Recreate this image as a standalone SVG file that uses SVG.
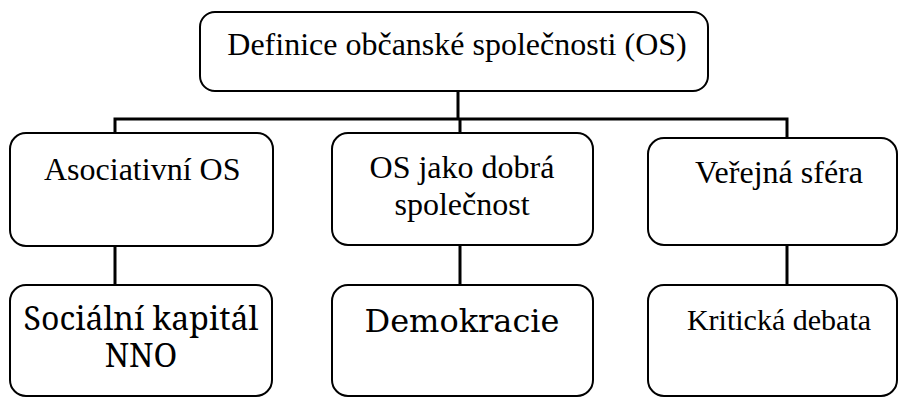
<svg xmlns="http://www.w3.org/2000/svg" width="899" height="398" viewBox="0 0 899 398">
<style>
.box{fill:#fff;stroke:#000;stroke-width:2}
.c{fill:none;stroke:#000;stroke-width:3}
</style>
<rect width="899" height="398" fill="#fff"/>
<g id="connectors">
<path class="c" d="M458 91V119M115 133V119H787V138M460 119V133M115 246V285M460 245V285M787 245V285"/>
</g>
<g id="root"><rect class="box" x="200" y="12" width="508" height="79" rx="15"/><text font-family="Times New Roman" font-size="32" text-anchor="middle" x="457" y="55">Definice občanské společnosti (OS)</text></g>
<g id="n1"><rect class="box" x="10" y="133" width="263" height="113" rx="16"/><text font-family="Liberation Serif" font-size="32" x="44" y="180">Asociativní OS</text></g>
<g id="n2"><rect class="box" x="332" y="133" width="261" height="112" rx="16"/><text style="font-family:'Liberation Serif',serif;font-size:32px" text-anchor="middle" x="462" y="178">OS jako dobrá</text><text style="font-family:'Liberation Serif',serif;font-size:32px" text-anchor="middle" x="462" y="215">společnost</text></g>
<g id="n3"><rect class="box" x="648" y="138" width="249" height="107" rx="16"/><text font-family="serif" font-size="32" text-anchor="middle" x="779" y="183">Veřejná sféra</text></g>
<g id="n4"><rect class="box" x="10" y="285" width="262" height="111" rx="16"/><text font-family="Noto Serif" font-size="32" text-anchor="middle" x="141" y="330">Sociální kapitál</text><text font-family="Noto Serif" font-size="32" text-anchor="middle" x="141" y="367">NNO</text></g>
<g id="n5"><rect class="box" x="332" y="285" width="261" height="111" rx="16"/><text font-family="DejaVu Serif" font-size="32" text-anchor="middle" x="462" y="332">Demokracie</text></g>
<g id="n6"><rect class="box" x="648" y="285" width="249" height="111" rx="16"/><text font-family="Liberation Serif" font-size="30" text-anchor="middle" x="779" y="330">Kritická debata</text></g>
</svg>
